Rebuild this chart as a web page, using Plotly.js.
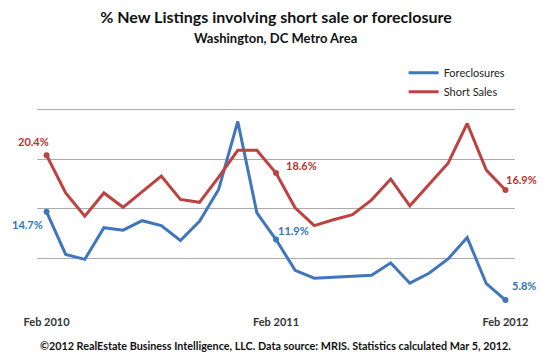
<!DOCTYPE html>
<html>
<head>
<meta charset="utf-8">
<script src="https://cdn.plot.ly/plotly-3.0.1.min.js"></script>
<style>html,body{margin:0;padding:0;background:#fff;}#chart{width:550px;height:364px;}</style>
</head>
<body>
<div id="chart"></div>
<script>
const months = ["Feb 2010","Mar 2010","Apr 2010","May 2010","Jun 2010","Jul 2010","Aug 2010","Sep 2010","Oct 2010","Nov 2010","Dec 2010","Jan 2011",
  "Feb 2011","Mar 2011","Apr 2011","May 2011","Jun 2011","Jul 2011","Aug 2011","Sep 2011","Oct 2011","Nov 2011","Dec 2011","Jan 2012","Feb 2012"];
const foreclosures = [14.7,10.4,9.9,13.1,12.85,13.8,13.3,11.8,13.75,16.95,23.8,14.6,11.9,8.8,8.0,8.1,8.2,8.3,9.55,7.5,8.5,9.95,12.1,7.45,5.8];
const shortSales = [20.4,16.6,14.25,16.6,15.15,16.7,18.3,15.95,15.65,18.2,20.9,20.9,18.6,15.1,13.3,13.9,14.4,15.9,18.0,15.3,17.5,19.6,23.6,18.9,16.9];
const tickLabels = ["Feb 2010","Feb 2011","Feb 2012"];
const labelIdx = [0,12,24];

const BLUE = "#3F76BC", RED = "#BC4341";
const LBLUE = "#2E75B6", LRED = "#B8312F";

const traces = [
  {x: months, y: foreclosures, name: "Foreclosures", type: "scatter", mode: "lines",
   line: {color: BLUE, width: 3}},
  {x: months, y: shortSales, name: "Short Sales", type: "scatter", mode: "lines",
   line: {color: RED, width: 3}},
  {x: labelIdx.map(i => months[i]), y: labelIdx.map(i => foreclosures[i]), type: "scatter", mode: "markers",
   marker: {color: BLUE, size: 6}, showlegend: false, hoverinfo: "skip"},
  {x: labelIdx.map(i => months[i]), y: labelIdx.map(i => shortSales[i]), type: "scatter", mode: "markers",
   marker: {color: RED, size: 6}, showlegend: false, hoverinfo: "skip"}
];

const lblFont = (c) => ({family: "Lato, 'Open Sans', sans-serif", size: 11, color: c, weight: "bold"});
const shiftsF = [[-19,-13],[17,9],[19,15]];
const shiftsS = [[-13,14],[25,8],[16,10]];
const annotations = [];
labelIdx.forEach((i,k) => {
  annotations.push({x: months[i], y: foreclosures[i], xref: "x", yref: "y", text: "<b>" + foreclosures[i].toFixed(1) + "%</b>",
    showarrow: false, xshift: shiftsF[k][0], yshift: shiftsF[k][1], font: lblFont(LBLUE)});
  annotations.push({x: months[i], y: shortSales[i], xref: "x", yref: "y", text: "<b>" + shortSales[i].toFixed(1) + "%</b>",
    showarrow: false, xshift: shiftsS[k][0], yshift: shiftsS[k][1], font: lblFont(LRED)});
});
annotations.push({xref: "paper", yref: "paper", x: 0.498, y: 1.0885, yanchor: "middle", showarrow: false,
  text: "<b>Washington, DC Metro Area</b>", font: {family: "Lato, sans-serif", size: 13, color: "#111"}});
annotations.push({xref: "paper", yref: "paper", x: 0.498, y: -0.151, yanchor: "middle", showarrow: false,
  text: "<b>©2012 RealEstate Business Intelligence, LLC. Data source: MRIS. Statistics calculated Mar 5, 2012.</b>",
  font: {family: "Lato, sans-serif", size: 10.8, color: "#111"}});

const layout = {
  width: 550, height: 364,
  margin: {l: 37, r: 35, t: 60, b: 55.5},
  paper_bgcolor: "#fff", plot_bgcolor: "#fff",
  title: {text: "<b>% New Listings involving short sale or foreclosure</b>", x: 0.5, xref: "paper", xanchor: "center",
    y: 1 - 17/364, yref: "container", yanchor: "middle",
    font: {family: "Lato, sans-serif", size: 16, color: "#111"}},
  xaxis: {type: "category", range: [-0.5, 24.5], tickvals: tickLabels, ticktext: tickLabels,
    showgrid: false, zeroline: false, showline: false, ticks: "", ticklabelstandoff: 6,
    tickfont: {family: "Lato, sans-serif", size: 11, color: "#333", weight: "bold"}},
  yaxis: {range: [5, 30], dtick: 5, tick0: 5, showticklabels: false, showgrid: true,
    gridcolor: "#ABABAB", gridwidth: 1.3, zeroline: false, showline: false, ticks: ""},
  legend: {x: 0.767, y: 1.007, xanchor: "left", yanchor: "top", bgcolor: "rgba(255,255,255,0)",
    font: {family: "Lato, sans-serif", size: 11, color: "#222"}, tracegroupgap: 0},
  showlegend: true,
  annotations: annotations
};

Plotly.newPlot("chart", traces, layout, {staticPlot: true, displayModeBar: false});
</script>
</body>
</html>
